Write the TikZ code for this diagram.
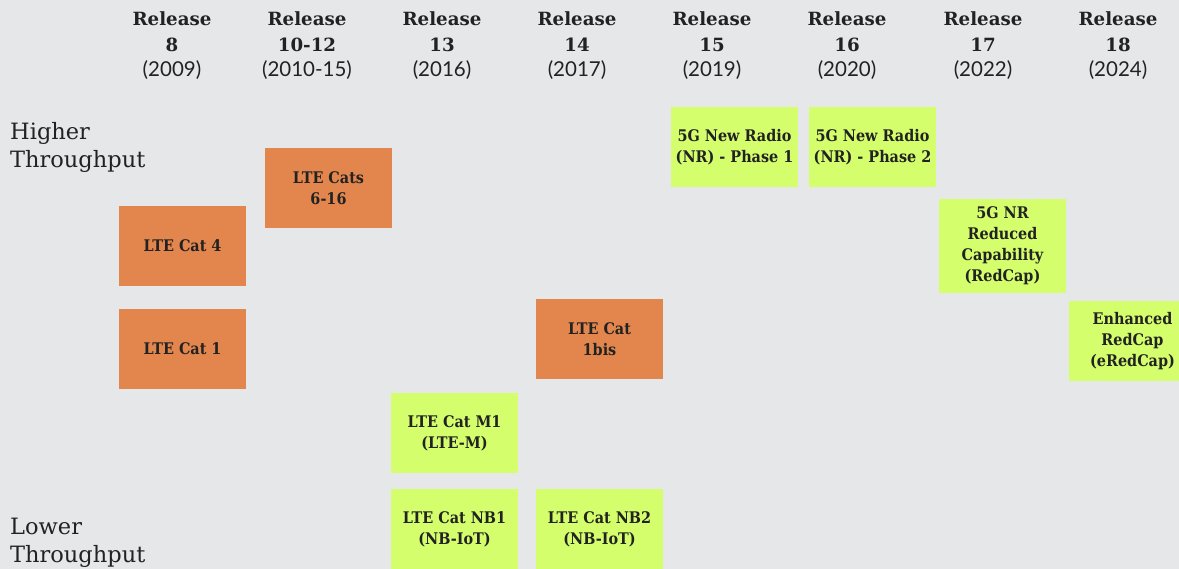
\documentclass[tikz,border=0pt]{standalone}
\usepackage{fontspec}
\setmainfont{DejaVu Serif}
\newfontfamily\yearfont{Lato}
\newfontfamily\boxfont{DejaVu Serif Condensed}
\usepackage{xcolor}
\definecolor{bggray}{HTML}{E6E7E9}
\definecolor{ltebox}{HTML}{E3864D}
\definecolor{nrbox}{HTML}{D4FE6C}
\definecolor{inkdark}{HTML}{222222}
\newcommand{\relyear}[1]{{\yearfont\fontsize{20.5}{25.5}\selectfont #1}}

\begin{document}
\begin{tikzpicture}[x=1pt, y=-1pt,
  cell/.style={minimum width=127pt, minimum height=80pt, inner sep=0pt, align=center,
    text=inkdark, font=\boxfont\bfseries\fontsize{16}{21}\selectfont},
  ltecell/.style={cell, fill=ltebox},
  nrcell/.style={cell, fill=nrbox},
  relhead/.style={align=center, text=inkdark, inner sep=0pt, font=\fontsize{18.2}{25.5}\selectfont},
  axislabel/.style={align=left, anchor=west, inner sep=0pt, text=inkdark, font=\fontsize{22.5}{28}\selectfont}]
\fill[bggray] (0,0) rectangle (1179,569);
\useasboundingbox (0,0) rectangle (1179,569);
\clip (0,0) rectangle (1179,569);
% release headers
\node[relhead] (h8)  at (172,46)  {\textbf{Release}\\\textbf{8}\\\relyear{(2009)}};
\node[relhead] (h10) at (307,46)  {\textbf{Release}\\\textbf{10-12}\\\relyear{(2010-15)}};
\node[relhead] (h13) at (442,46)  {\textbf{Release}\\\textbf{13}\\\relyear{(2016)}};
\node[relhead] (h14) at (577,46)  {\textbf{Release}\\\textbf{14}\\\relyear{(2017)}};
\node[relhead] (h15) at (712,46)  {\textbf{Release}\\\textbf{15}\\\relyear{(2019)}};
\node[relhead] (h16) at (847,46)  {\textbf{Release}\\\textbf{16}\\\relyear{(2020)}};
\node[relhead] (h17) at (983,46)  {\textbf{Release}\\\textbf{17}\\\relyear{(2022)}};
\node[relhead] (h18) at (1118,46) {\textbf{Release}\\\textbf{18}\\\relyear{(2024)}};
% throughput axis
\node[axislabel] (hi) at (10,147) {Higher\\Throughput};
\node[axislabel] (lo) at (10,543) {Lower\\Throughput};
% LTE boxes
\node[ltecell] (cat4)  at (182.5,246) {LTE Cat 4};
\node[ltecell] (cat6)  at (328.5,188) {LTE Cats\\6-16};
\node[ltecell] (cat1)  at (182.5,349) {LTE Cat 1};
\node[ltecell] (cat1b) at (599.5,339) {LTE Cat\\1bis};
\node[nrcell]  (m1)    at (454.5,433) {LTE Cat M1\\(LTE-M)};
\node[nrcell]  (nb1)   at (454.5,529) {LTE Cat NB1\\(NB-IoT)};
\node[nrcell]  (nb2)   at (599.5,529) {LTE Cat NB2\\(NB-IoT)};
% 5G boxes
\node[nrcell] (nr1) at (734.5,147) {5G New Radio\\(NR) - Phase 1};
\node[nrcell] (nr2) at (872.5,147) {5G New Radio\\(NR) - Phase 2};
\node[nrcell, minimum height=94pt] (rcap) at (1002.5,246) {5G NR\\Reduced\\Capability\\(RedCap)};
\node[nrcell] (ercap) at (1132.5,341) {Enhanced\\RedCap\\(eRedCap)};
\end{tikzpicture}
\end{document}
